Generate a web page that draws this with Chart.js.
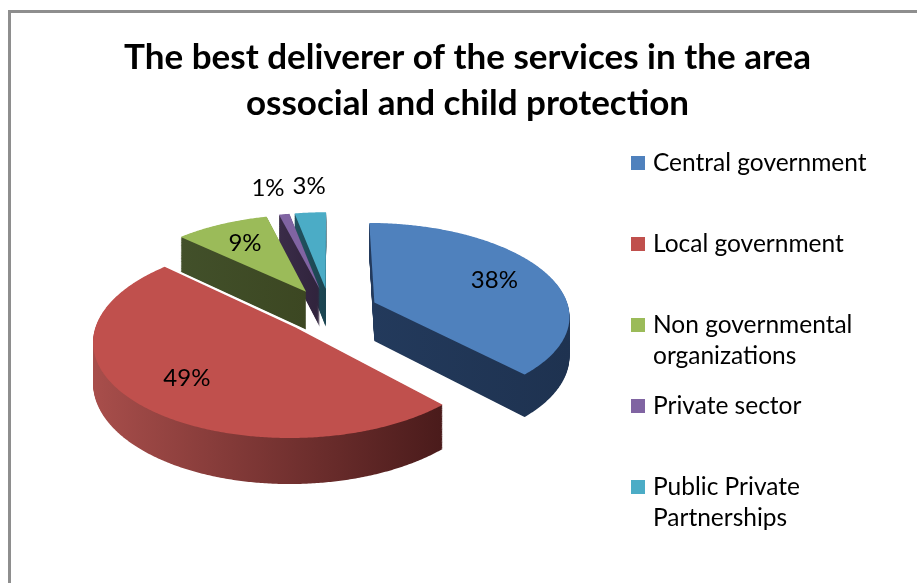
<!DOCTYPE html>
<html>
<head>
<meta charset="utf-8">
<script src="https://cdn.jsdelivr.net/npm/chart.js@4/dist/chart.umd.min.js"></script>
<style>
  html, body { margin: 0; padding: 0; background: #ffffff; }
  #wrap { width: 917px; height: 583px; position: relative; }
</style>
</head>
<body>
<div id="wrap"><canvas id="chart" width="917" height="583"></canvas></div>
<script>
// Survey answers: who delivers services best in social and child protection
const categories = ['Central government', 'Local government', 'Non governmental organizations', 'Private sector', 'Public Private Partnerships'];
const shares = [38, 49, 9, 1, 3];
const titleLines = ['The best deliverer of the services in the area', 'ossocial and child protection'];

// Face colours: top surface, and light/dark ends of the extruded wall
const topColors  = ['#4f81bd', '#c0504d', '#9bbb59', '#8064a2', '#4bacc6'];
const wallLight  = ['#233a5c', '#a84e4b', '#42502a', '#3a2c48', '#22525f'];
const wallDark   = ['#1e3250', '#4a1b1b', '#3c4722', '#30233c', '#1b4450'];

const FONT = 'Lato, "Open Sans", sans-serif';

// 3D view: screen centre, radii, perspective strength, wall height
const VIEW = { cx: 330, cy: 310.7, rx: 195, ry: 91.8, persp: 0.13, depth: 39, explode: 0.2475 };

// Frame round the chart
const framePlugin = {
  id: 'frame',
  beforeDraw(chart) {
    const ctx = chart.ctx;
    ctx.save();
    ctx.fillStyle = '#ffffff';
    ctx.fillRect(0, 0, chart.width, chart.height);
    ctx.fillStyle = '#8e8e8e';
    ctx.fillRect(8, 10, chart.width - 8, 3);
    ctx.fillRect(8, 10, 3, chart.height - 10);
    ctx.restore();
  }
};

// Draws the pie arcs as an exploded, tilted 3D pie
const pie3dPlugin = {
  id: 'pie3d',
  beforeDatasetsDraw(chart) {
    const meta = chart.getDatasetMeta(0);
    const arcs = meta.data;
    if (!arcs.length) return false;
    const ctx = chart.ctx;
    const R = arcs[0].outerRadius, ox = arcs[0].x, oy = arcs[0].y;

    // library coordinates -> screen, with back of the pie shrunk by perspective
    const project = (px, py) => {
      const U = (px - ox) / R, V = -(py - oy) / R;
      const s = 1 / (1 + VIEW.persp * V);
      return { x: VIEW.cx + VIEW.rx * U * s, y: VIEW.cy - VIEW.ry * V * s, s };
    };

    const pieces = arcs.map((el, i) => {
      const a0 = el.startAngle, a1 = el.endAngle;
      const mid = (a0 + a1) / 2;
      const off = el.options.offset || 0;
      const bx = ox + off * Math.cos(mid), by = oy + off * Math.sin(mid);
      const pts = [project(bx, by)];
      const n = Math.max(2, Math.ceil((a1 - a0) / (Math.PI / 360)));
      for (let k = 0; k <= n; k++) {
        const a = a0 + (a1 - a0) * k / n;
        pts.push(project(bx + R * Math.cos(a), by + R * Math.sin(a)));
      }
      return { i, pts, mid, bx, by, back: -Math.sin(mid) };
    });

    // back slices first so the front ones cover them
    const order = pieces.slice().sort((a, b) => b.back - a.back);

    const facePath = (pts, drop) => {
      ctx.beginPath();
      pts.forEach((q, k) => {
        const y = q.y + drop * VIEW.depth * q.s;
        k ? ctx.lineTo(q.x, y) : ctx.moveTo(q.x, y);
      });
      ctx.closePath();
    };

    ctx.save();
    order.forEach(p => {
      const pts = p.pts;
      let minX = Infinity, maxX = -Infinity;
      pts.forEach(q => { minX = Math.min(minX, q.x); maxX = Math.max(maxX, q.x); });
      const g = ctx.createLinearGradient(minX, 0, maxX, 0);
      g.addColorStop(0, wallLight[p.i]);
      g.addColorStop(1, wallDark[p.i]);
      ctx.fillStyle = g;
      // sweep the face downwards to build the solid wall
      const steps = Math.ceil(VIEW.depth * 1.3);
      for (let k = steps; k >= 1; k--) {
        facePath(pts, k / steps);
        ctx.fill();
      }
      // top face
      facePath(pts, 0);
      ctx.fillStyle = topColors[p.i];
      ctx.fill();
    });

    // percentage labels: inside for big slices, outside above the small ones
    ctx.fillStyle = '#000000';
    ctx.font = '24px ' + FONT;
    ctx.textAlign = 'center';
    ctx.textBaseline = 'middle';
    const total = shares.reduce((a, b) => a + b, 0);
    const labels = pieces.map(p => {
      const pct = shares[p.i] / total * 100;
      const outside = pct < 5;
      const f = outside ? 1.4 : 0.7;
      const q = project(p.bx + f * R * Math.cos(p.mid), p.by + f * R * Math.sin(p.mid));
      const text = Math.round(pct) + '%';
      return { text, x: q.x, y: q.y, w: ctx.measureText(text).width, outside };
    });
    // push neighbouring outside labels apart so they keep a small gap
    const outer = labels.filter(l => l.outside).sort((a, b) => a.x - b.x);
    const gap = 8;
    for (let k = 1; k < outer.length; k++) {
      const A = outer[k - 1], B = outer[k];
      const need = (A.w + B.w) / 2 + gap - (B.x - A.x);
      if (need > 0) { A.x -= need / 2; B.x += need / 2; }
    }
    labels.forEach(l => ctx.fillText(l.text, l.x, l.y));
    ctx.restore();
    return false;
  }
};

// Legend on the right with wrapped names
const legendPlugin = {
  id: 'sideLegend',
  afterDraw(chart) {
    const ctx = chart.ctx;
    const x0 = 631, tx = 653, firstY = 163, step = 81, lineH = 31, maxW = chart.width - tx - 6;
    ctx.save();
    ctx.font = '24.5px ' + FONT;
    ctx.textAlign = 'left';
    ctx.textBaseline = 'middle';
    chart.data.labels.forEach((label, i) => {
      const y = firstY + step * i;
      ctx.fillStyle = topColors[i];
      ctx.fillRect(x0, y - 7, 14, 14);
      const words = label.split(' ');
      const lines = [];
      let cur = '';
      words.forEach(w => {
        const t = cur ? cur + ' ' + w : w;
        if (cur && ctx.measureText(t).width > maxW) { lines.push(cur); cur = w; } else cur = t;
      });
      lines.push(cur);
      ctx.fillStyle = '#000000';
      lines.forEach((ln, k) => ctx.fillText(ln, tx, y + k * lineH));
    });
    ctx.restore();
  }
};

new Chart(document.getElementById('chart'), {
  type: 'pie',
  data: {
    labels: categories,
    datasets: [{
      data: shares,
      backgroundColor: topColors,
      borderWidth: 0,
      hoverOffset: 0,
      offset: (c) => {
        const a = c.chart.chartArea;
        if (!a) return 0;
        const M = Math.min(a.width, a.height);
        // explode each slice by a fixed fraction of the radius
        return M * VIEW.explode / (2 + VIEW.explode);
      }
    }]
  },
  options: {
    responsive: false,
    animation: false,
    devicePixelRatio: 1,
    layout: { padding: { left: 18, right: 0, top: 0, bottom: 10 } },
    plugins: {
      legend: { display: false },
      tooltip: { enabled: false },
      title: {
        display: true,
        text: titleLines,
        color: '#000000',
        font: { family: FONT, size: 35, weight: 'bold', lineHeight: 46 / 35 },
        padding: { top: 35, bottom: 10 }
      }
    }
  },
  plugins: [framePlugin, pie3dPlugin, legendPlugin]
});
</script>
</body>
</html>
